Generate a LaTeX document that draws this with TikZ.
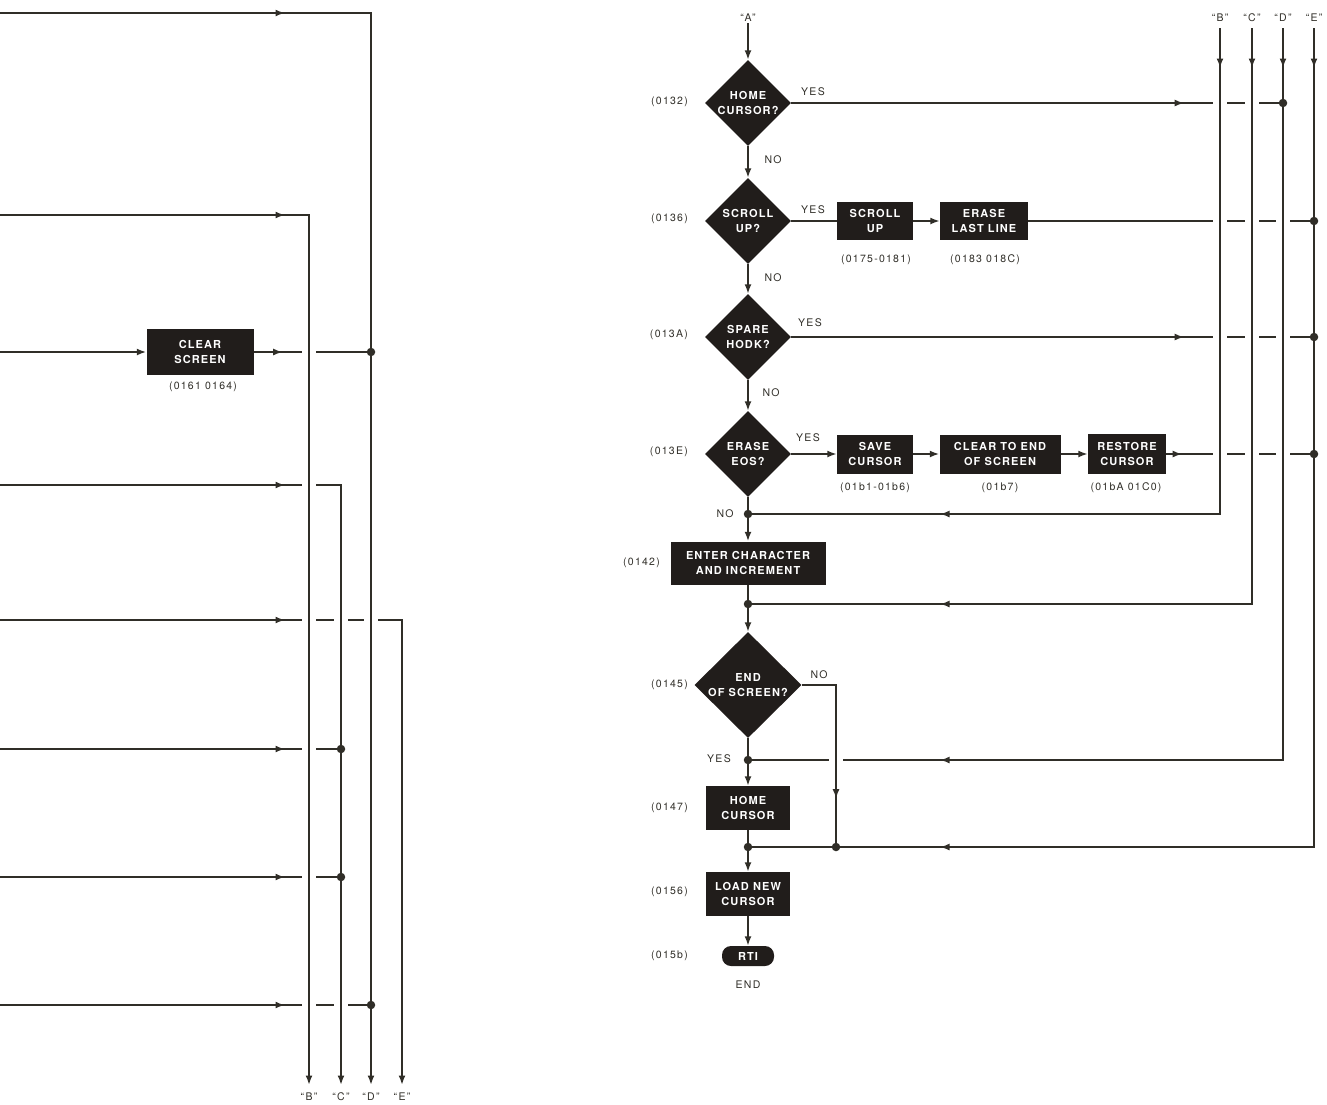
\documentclass[tikz,border=0pt]{standalone}
\usepackage{fontspec}
\setmainfont{TeX Gyre Heros}
\newfontfamily\boxfont[LetterSpace=10]{TeX Gyre Heros}
\newfontfamily\labfont[LetterSpace=12]{TeX Gyre Heros}
\usetikzlibrary{shapes.geometric, arrows.meta, positioning, decorations.markings}
\definecolor{ink}{RGB}{48,46,40}
\definecolor{boxfill}{RGB}{33,29,27}

\begin{document}
\begin{tikzpicture}[x=1pt, y=-1pt,
        line/.style={draw=ink, line width=1.9pt},
        flow/.style={line, -{Latex[length=9.5pt,width=7pt]}},
        midarrow/.style={postaction={decorate}, decoration={markings,
            mark=at position #1 with {\arrow[ink]{Latex[length=9.5pt,width=7pt]}}}},
        twoarrows/.style 2 args={postaction={decorate}, decoration={markings,
            mark=at position #1 with {\arrow[ink]{Latex[length=9.5pt,width=7pt]}},
            mark=at position #2 with {\arrow[ink]{Latex[length=9.5pt,width=7pt]}}}},
        box/.style={rectangle, fill=boxfill, text=white, align=center, inner sep=2pt,
            font=\boxfont\bfseries\fontsize{11}{15}\selectfont},
        decision/.style={box, diamond, inner sep=0pt, minimum width=86pt, minimum height=86pt},
        term/.style={box, rounded corners=9pt, minimum width=52pt, minimum height=20pt},
        note/.style={text=ink, inner sep=1pt, font=\labfont\fontsize{10.5}{12}\selectfont},
        addr/.style={note, anchor=east},
        bus/.style={note},
        jdot/.style={circle, fill=ink, inner sep=0pt, minimum size=8.5pt}
    ]
    \useasboundingbox (0,0) rectangle (1327,1104);

    % ---------- left half ----------
    \coordinate (in0) at (0,13);
    \coordinate (in1) at (0,215);
    \coordinate (in2) at (0,352);
    \coordinate (in3) at (0,485);
    \coordinate (in4) at (0,620);
    \coordinate (in5) at (0,749);
    \coordinate (in6) at (0,877);
    \coordinate (in7) at (0,1005);
    \coordinate (lBb) at (309,1085);
    \coordinate (lCb) at (341,1085);
    \coordinate (lDb) at (371,1085);
    \coordinate (lEb) at (402,1085);

    \node[box, minimum width=107pt, minimum height=46pt] (cs) at (200,352) {CLEAR\\SCREEN};
    \node[note] (csa) at (203,387) {(0161 0164)};

    \node[jdot] (lj1) at (371,352) {};
    \node[jdot] (lj2) at (341,749) {};
    \node[jdot] (lj3) at (341,877) {};
    \node[jdot] (lj4) at (371,1005) {};

    \draw[flow, midarrow=285pt] (in0) -| (lDb);
    \draw[flow, midarrow=285pt] (in1) -| (lBb);
    \draw[flow] (in2) -- (cs);
    \draw[line, midarrow=29pt] (cs) -- (lj1);
    \draw[flow, midarrow=285pt] (in3) -| (lCb);
    \draw[flow, midarrow=285pt] (in4) -| (lEb);
    \draw[line, midarrow=285pt] (in5) -- (lj2);
    \draw[line, midarrow=285pt] (in6) -- (lj3);
    \draw[line, midarrow=285pt] (in7) -- (lj4);

    \node[bus] (lB) at (309,1097) {“B”};
    \node[bus] (lC) at (341,1097) {“C”};
    \node[bus] (lD) at (371,1097) {“D”};
    \node[bus] (lE) at (402,1097) {“E”};

    % ---------- right half: main column ----------
    \node[bus] (lA) at (748,18) {“A”};
    \node[decision] (d1) at (748,103) {HOME\\CURSOR?};
    \node[decision] (d2) at (748,221) {SCROLL\\UP?};
    \node[decision] (d3) at (748,337) {SPARE\\HODK?};
    \node[decision] (d4) at (748,454) {ERASE\\EOS?};
    \node[box, minimum width=155pt, minimum height=43pt] (en) at (748,563) {ENTER CHARACTER\\AND INCREMENT};
    \node[decision, minimum width=107pt, minimum height=106pt] (d5) at (748,685) {END\\OF SCREEN?};
    \node[box, minimum width=84pt, minimum height=44pt] (hc) at (748,808) {HOME\\CURSOR};
    \node[box, minimum width=84pt, minimum height=44pt] (ln) at (748,894) {LOAD NEW\\CURSOR};
    \node[term] (rti) at (748,956) {RTI};
    \node[note] (endl) at (748,985) {END};

    % side boxes
    \node[box, minimum width=76pt, minimum height=38pt] (su) at (875,221) {SCROLL\\UP};
    \node[box, minimum width=88pt, minimum height=38pt] (el) at (984,221) {ERASE\\LAST LINE};
    \node[box, minimum width=76pt, minimum height=39pt] (sv) at (875,454) {SAVE\\CURSOR};
    \node[box, minimum width=121pt, minimum height=39pt] (ce) at (1000,454) {CLEAR TO END\\OF SCREEN};
    \node[box, minimum width=78pt, minimum height=40pt] (rc) at (1127,454) {RESTORE\\CURSOR};

    % addresses
    \node[addr] (a1) at (689,102) {(0132)};
    \node[addr] (a2) at (689,219) {(0136)};
    \node[addr] (a3) at (689,335) {(013A)};
    \node[addr] (a4) at (689,452) {(013E)};
    \node[addr] (a5) at (661,563) {(0142)};
    \node[addr] (a6) at (689,685) {(0145)};
    \node[addr] (a7) at (689,808) {(0147)};
    \node[addr] (a8) at (689,892) {(0156)};
    \node[addr] (a9) at (689,956) {(015b)};
    \node[note] (sua) at (876,260) {(0175-0181)};
    \node[note] (ela) at (985,260) {(0183 018C)};
    \node[note] (sva) at (875,488) {(01b1-01b6)};
    \node[note] (cea) at (1000,488) {(01b7)};
    \node[note] (rca) at (1126,488) {(01bA 01C0)};

    % yes / no
    \node[note] (y1) at (813,92) {YES};
    \node[note] (n1) at (773,160) {NO};
    \node[note] (y2) at (813,210) {YES};
    \node[note] (n2) at (773,278) {NO};
    \node[note] (y3) at (810,323) {YES};
    \node[note] (n3) at (771,393) {NO};
    \node[note] (y4) at (808,438) {YES};
    \node[note] (n4) at (725,514) {NO};
    \node[note] (n5) at (819,675) {NO};
    \node[note] (y5) at (719,759) {YES};

    % buses
    \coordinate (rBt) at (1220,28);
    \coordinate (rCt) at (1252,28);
    \coordinate (rDt) at (1283,28);
    \coordinate (rEt) at (1314,28);
    \node[bus] (rB) at (1220,18) {“B”};
    \node[bus] (rC) at (1252,18) {“C”};
    \node[bus] (rD) at (1283,18) {“D”};
    \node[bus] (rE) at (1314,18) {“E”};

    \node[jdot] (jD1) at (1283,103) {};
    \node[jdot] (jE1) at (1314,221) {};
    \node[jdot] (jE2) at (1314,337) {};
    \node[jdot] (jE3) at (1314,454) {};
    \node[jdot] (jNo) at (748,514) {};
    \node[jdot] (jC) at (748,604) {};
    \node[jdot] (jD) at (748,760) {};
    \node[jdot] (jE) at (748,847) {};
    \node[jdot] (jN) at (836,847) {};

    % main flow
    \draw[flow] (lA) -- (d1);
    \draw[flow] (d1) -- (d2);
    \draw[flow] (d2) -- (d3);
    \draw[flow] (d3) -- (d4);
    \draw[line] (d4) -- (jNo);
    \draw[flow] (jNo) -- (en);
    \draw[line] (en) -- (jC);
    \draw[flow] (jC) -- (d5);
    \draw[line] (d5) -- (jD);
    \draw[flow] (jD) -- (hc);
    \draw[line] (hc) -- (jE);
    \draw[flow] (jE) -- (ln);
    \draw[flow] (ln) -- (rti);

    % yes branches
    \draw[line, midarrow=393pt] (d1.east) -- (jD1);
    \draw[line] (d2.east) -- (su);
    \draw[flow] (su) -- (el);
    \draw[line, midarrow=201pt] (el) -- (jE1);
    \draw[line, midarrow=393pt] (d3.east) -- (jE2);
    \draw[flow] (d4.east) -- (sv);
    \draw[flow] (sv) -- (ce);
    \draw[flow] (ce) -- (rc);
    \draw[line, midarrow=16pt] (rc) -- (jE3);
    \draw[line, midarrow=148pt] (d5.east) -| (jN);

    % returns from the buses
    \draw[line, twoarrows={40pt}{766pt}] (rBt) |- (jNo);
    \draw[line, twoarrows={40pt}{888pt}] (rCt) |- (jC);
    \draw[line, twoarrows={40pt}{1075pt}] (rDt) |- (jD);
    \draw[line, twoarrows={40pt}{1193pt}] (rEt) |- (jE);

    % breaks where lines cross
    \foreach \gx/\gy in {309/352, 309/485, 309/620, 341/620, 371/620, 309/749, 309/877,
            309/1005, 341/1005, 1220/103, 1252/103, 1220/221, 1252/221, 1283/221,
            1220/337, 1252/337, 1283/337, 1220/454, 1252/454, 1283/454, 836/760} {
        \fill[white] (\gx-7,\gy-3.5) rectangle (\gx+7,\gy+3.5);
        \draw[line] (\gx,\gy-4) -- (\gx,\gy+4);
    }
\end{tikzpicture}
\end{document}
